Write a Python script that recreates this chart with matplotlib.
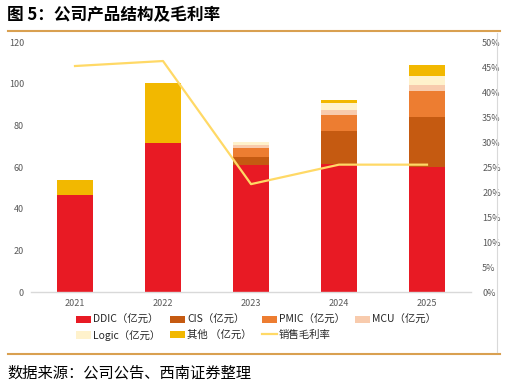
import matplotlib
matplotlib.use("Agg")
import matplotlib.pyplot as plt
from matplotlib.lines import Line2D
import numpy as np

plt.rcParams['font.family'] = ['Noto Sans CJK SC', 'DejaVu Sans']

years = ['2021', '2022', '2023', '2024', '2025']
ddic = [46.7, 71.6, 60.8, 61.4, 60.0]
cis = [0, 0, 4.3, 16.1, 23.9]
pmic = [0, 0, 4.3, 7.7, 12.8]
mcu = [0, 0, 1.1, 2.4, 2.8]
logic = [0, 0, 1.5, 3.4, 4.1]
other = [7.3, 28.8, 0, 1.5, 5.3]
margin = [45.25, 46.25, 21.6, 25.5, 25.5]

series_names = ['DDIC（亿元）', 'CIS（亿元）', 'PMIC（亿元）', 'MCU（亿元）', 'Logic（亿元）', '其他 （亿元）']
line_name = '销售毛利率'
colors = ['#E81A24', '#C55A11', '#ED7D31', '#F8CBAD', '#FFF2CC', '#F2B800']
line_color = '#FFD966'

W, H = 508, 385
fig = plt.figure(figsize=(W / 100, H / 100), dpi=100)
ax = fig.add_axes([31 / W, 1 - 292 / H, 440 / W, (292 - 42.3) / H])

x = np.arange(len(years))
bottom = np.zeros(len(years))
handles = []
for name, vals, c in zip(series_names, [ddic, cis, pmic, mcu, logic, other], colors):
    vals = np.array(vals, dtype=float)
    b = ax.bar(x, vals, 0.4, bottom=bottom, color=c, label=name, linewidth=0)
    handles.append(b)
    bottom += vals

ax.set_xlim(-0.5, len(years) - 0.5)
ax.set_ylim(0, 120)
ax.set_yticks(np.arange(0, 121, 20))
ax.set_xticks(x)
ax.set_xticklabels(years)
for s in ['top', 'right', 'left']:
    ax.spines[s].set_visible(False)
ax.spines['bottom'].set_color('#D9D9D9')
ax.spines['bottom'].set_linewidth(1.0)
ax.tick_params(axis='both', length=0, labelsize=6.5, labelcolor='#595959')
ax.tick_params(axis='y', pad=5)
ax.tick_params(axis='x', pad=5)

ax2 = ax.twinx()
ln, = ax2.plot(x, margin, color=line_color, linewidth=1.6, label=line_name)
ax2.set_ylim(0, 50)
ax2.set_yticks(np.arange(0, 51, 5))
ax2.yaxis.set_major_formatter(matplotlib.ticker.FuncFormatter(lambda v, p: f'{int(v)}%'))
for s in ['top', 'right', 'left', 'bottom']:
    ax2.spines[s].set_visible(False)
ax2.tick_params(axis='y', length=0, labelsize=6.5, labelcolor='#595959', pad=8)

order_h = [handles[0], handles[4], handles[1], handles[5], handles[2], ln, handles[3]]
order_l = [series_names[0], series_names[4], series_names[1], series_names[5], series_names[2], line_name, series_names[3]]
leg = fig.legend(order_h, order_l, ncol=4, loc='upper left', bbox_to_anchor=(76 / W, 1 - 315 / H),
                 frameon=False, fontsize=7.5, handlelength=1.4, handleheight=0.7, handletextpad=0.2,
                 columnspacing=1.0, labelspacing=0.45, borderaxespad=0, borderpad=0)
for t in leg.get_texts():
    t.set_color('#262626')

# decorative rules
fig.add_artist(Line2D([8 / W, 500 / W], [1 - 31 / H, 1 - 31 / H], color='#D9A050', linewidth=1.5))
fig.add_artist(Line2D([8 / W, 500 / W], [1 - 354 / H, 1 - 354 / H], color='#D9A050', linewidth=1.5))
fig.add_artist(Line2D([497 / W, 497 / W], [1 - 33 / H, 1 - 352 / H], color='#D9D9D9', linewidth=0.8))

fig.text(7 / W, 1 - 15 / H, '图 5：公司产品结构及毛利率', fontsize=12, fontweight='bold',
         va='center', ha='left', color='#000000')
fig.text(7 / W, 1 - 373 / H, '数据来源：公司公告、西南证券整理', fontsize=11, style='italic',
         va='center', ha='left', color='#000000')

fig.savefig('out.png', dpi=100)
